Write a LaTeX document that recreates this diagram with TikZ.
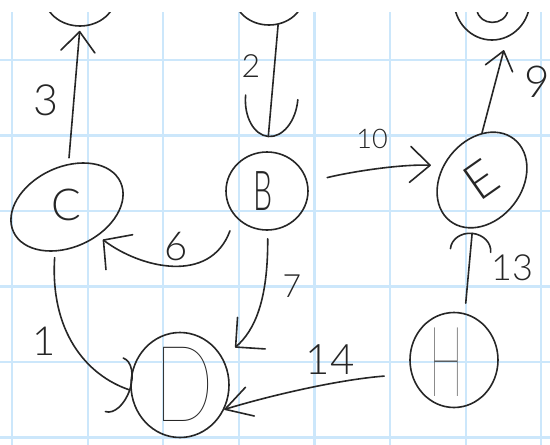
\documentclass[tikz,border=0pt]{standalone}
\usepackage{fontspec}
\usepackage{graphicx}
\usetikzlibrary{shapes.geometric,arrows.meta}
\IfFontExistsTF{Lato Light}{\newfontfamily\hand{Lato Light}}{\newfontfamily\hand{Lato}}
\IfFontExistsTF{Lato Thin}{\newfontfamily\handthin{Lato Thin}}{%
  \IfFontExistsTF{Lato Hairline}{\newfontfamily\handthin{Lato Hairline}}{\newfontfamily\handthin{Lato}}}
\newcommand\myfs[1]{\fontsize{#1}{#1}\selectfont}
\definecolor{ink}{RGB}{38,38,38}
\definecolor{gridblue}{RGB}{204,231,251}
\tikzset{
  nd/.style={draw=ink, line width=1.6pt, ellipse, inner sep=0pt},
  arr/.style={draw=ink, line width=1.6pt, line cap=round, line join=round},
  lbl/.style={text=ink, inner sep=0pt},
  gridln/.style={draw=gridblue, line width=2.2pt}
}
\begin{document}
\begin{tikzpicture}[x=1pt,y=-1pt]
\useasboundingbox (0,0) rectangle (550,445);
\fill[white] (0,0) rectangle (550,445);
\begin{scope}
\clip (0,12) rectangle (550,445);
\foreach \gx in {12,87.6,163.2,238.8,314.4,390,465.6,541.2} \draw[gridln] (\gx,12) -- (\gx,445);
\foreach \gy in {60,135.5,211,286.5,362,437.5} \draw[gridln] (0,\gy) -- (550,\gy);

% nodes (outlines)
\node[nd, minimum width=72pt, minimum height=62pt] (A) at (80,-5) {};
\node[nd, minimum width=70pt, minimum height=60pt] (T) at (269,-5) {};
\node[nd, minimum width=76pt, minimum height=80pt] (G) at (492,0) {};
\draw[arr] (477,10) .. controls (479,26) and (505,27) .. (508,10);
\node[nd, minimum width=118pt, minimum height=80pt, rotate=25] (C) at (67,207) {};
\node[nd, minimum width=82pt, minimum height=78pt] (B) at (267,191) {};
\node[nd, minimum width=104pt, minimum height=80pt, rotate=52] (E) at (482,180) {};
\node[nd, minimum width=98pt, minimum height=105pt] (D) at (180,385) {};
\node[nd, minimum width=88pt, minimum height=95pt] (H) at (454,360) {};

% node letters
\node[lbl, font=\hand\myfs{44}] (Ct) at (66,205) {C};
\node[lbl, font=\hand\myfs{55}] (Bt) at (263,191) {\scalebox{0.55}[1]{B}};
\node[lbl, font=\hand\myfs{50}, rotate=35] (Et) at (481,180) {E};
\node[lbl, font=\handthin\myfs{106}] (Dt) at (184,384) {\scalebox{0.74}[1]{D}};
\node[lbl, font=\handthin\myfs{98}] (Ht) at (446,362) {\scalebox{0.46}[1]{H}};

% edges
\draw[arr, -{Straight Barb[length=20pt,width=34pt,round]}, shorten <=6pt, shorten >=4pt] (C.63) -- (A.-90);
\draw[arr, -{Arc Barb[length=40pt,width=54pt,round]}, shorten >=14pt] (T.-73) -- (B.90);
\draw[arr, -{Straight Barb[length=20pt,width=36pt,round]}, shorten <=20pt, shorten >=12pt] (B.12) .. controls (350,172) and (400,164) .. (E.108);
\draw[arr, -{Straight Barb[length=18pt,width=28pt,round]}, shorten >=13pt] (E.38) -- (G.-68);
\draw[arr, -{Straight Barb[length=20pt,width=44pt,round]}, shorten <=15pt, shorten >=6pt] (B.-141) .. controls (210,285) and (140,268) .. (C.-68);
\draw[arr, -{Straight Barb[length=21pt,width=42pt,round]}, shorten <=8pt, shorten >=16pt] (B.-89) .. controls (268,300) and (255,330) .. (D.32);
\draw[arr, -{Arc Barb[length=17pt,width=58pt,round]}, shorten <=6pt] (C.-130) .. controls (50,330) and (85,375) .. (D.186);
\draw[arr, -{Arc Barb[length=18pt,width=42pt,round]}, shorten <=10pt, shorten >=4pt] (H.77) -- (E.-153);
\draw[arr, -{Straight Barb[length=26pt,width=30pt,round]}, shorten <=27pt] (H.198) .. controls (335,380) and (265,397) .. (D.-29);

% labels
\node[lbl, font=\hand\myfs{43}] (l3) at (46,100) {3};
\node[lbl, font=\hand\myfs{32}] (l2) at (251,66) {2};
\node[lbl, font=\hand\myfs{27}] (l10) at (372,139) {10};
\node[lbl, font=\hand\myfs{44}] (l9) at (537,82) {9};
\node[lbl, font=\hand\myfs{40}] (l6) at (176,247) {6};
\node[lbl, font=\hand\myfs{32}] (l7) at (292,286) {7};
\node[lbl, font=\hand\myfs{36}] (l13) at (512,268) {13};
\node[lbl, font=\hand\myfs{42}] (l14) at (330,360) {14};
\node[lbl, font=\hand\myfs{40}] (l1) at (44,341) {1};
\end{scope}
\end{tikzpicture}
\end{document}
